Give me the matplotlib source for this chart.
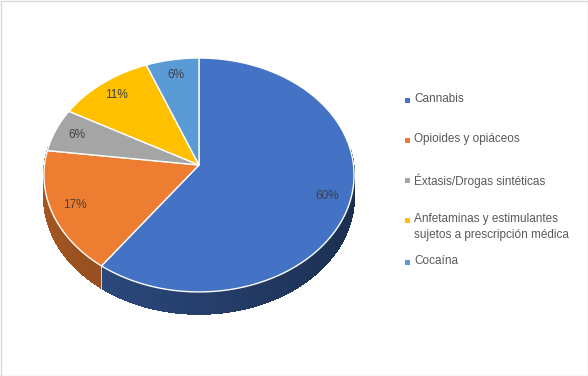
import numpy as np
import matplotlib
matplotlib.use('Agg')
import matplotlib.pyplot as plt
from matplotlib.patches import Polygon, Rectangle

# data
labels = ['Cannabis', 'Opioides y opiáceos', 'Éxtasis/Drogas sintéticas',
          'Anfetaminas y estimulantes\nsujetos a prescripción médica', 'Cocaína']
values = [60, 17, 6, 11, 6]
colors = ['#4472C4', '#ED7D31', '#A5A5A5', '#FFC000', '#5B9BD5']

# 3d pie geometry in pixel units (y down)
CX, CY = 199, 165
A, B, P = 154.5, 116.1, 0.0853
DEPTH = 22

plt.rcParams['font.family'] = ['Liberation Sans', 'DejaVu Sans']


def project(ang, r=1.0, dz=0.0):
    u = r * np.cos(np.radians(ang))
    v = r * np.sin(np.radians(ang))
    den = 1 + P * v
    return CX + A * u / den, CY - B * v / den + dz


def shade(c, f):
    rgb = np.array(matplotlib.colors.to_rgb(c))
    return tuple(np.clip(rgb * f, 0, 1))


fig = plt.figure(figsize=(5.88, 3.76), dpi=100)
ax = fig.add_axes([0, 0, 1, 1])
ax.set_xlim(0, 588)
ax.set_ylim(376, 0)
ax.axis('off')

total = float(sum(values))
cum = np.concatenate([[0], np.cumsum(values)]) / total
angles = 90 - 360 * cum  # excel: start at 12 o'clock, clockwise

# sides first
for i, c in enumerate(colors):
    t = np.linspace(angles[i], angles[i + 1], 300)
    for a0, a1 in zip(t[:-1], t[1:]):
        am = (a0 + a1) / 2
        if np.sin(np.radians(am)) > 0.15:
            continue
        x0, y0 = project(a0)
        x1, y1 = project(a1)
        u = np.cos(np.radians(am))
        f = 0.55 - 0.14 * u
        quad = [(x0, y0), (x1, y1), (x1, y1 + DEPTH), (x0, y0 + DEPTH)]
        ax.add_patch(Polygon(quad, closed=True, facecolor=shade(c, f),
                             edgecolor=shade(c, f), lw=0.6,
                             antialiased=False, zorder=1))

# slice boundaries on the side
for a in angles[1:-1]:
    if np.sin(np.radians(a)) < 0:
        x, y = project(a)
        ax.plot([x, x], [y, y + DEPTH], color='#d8d8d8', lw=0.7, zorder=2)

# top face
for i, c in enumerate(colors):
    t = np.linspace(angles[i], angles[i + 1], 200)
    pts = [project(0, 0)] + [project(a) for a in t]
    ax.add_patch(Polygon(pts, closed=True, facecolor=c, edgecolor='white',
                         lw=1.0, zorder=3))

# percentage labels
for i, v in enumerate(values):
    am = (angles[i] + angles[i + 1]) / 2
    x, y = project(am, 0.85)
    ax.text(x, y, f'{v}%', ha='center', va='center', fontsize=8.5,
            color='#404040', zorder=4)

# legend
leg_y = [100, 140, 180, 220, 262]
for lab, c, y in zip(labels, colors, leg_y):
    ax.add_patch(Rectangle((405, y - 2.5), 5, 5, facecolor=c, edgecolor='none'))
    ax.text(414, y - 7, lab, ha='left', va='top', fontsize=8.5,
            color='#595959', linespacing=1.45)

# chart border
ax.add_patch(Rectangle((0.5, 0.5), 587, 375, facecolor='none',
                       edgecolor='#D9D9D9', lw=1))

fig.savefig('out.png', dpi=100)
